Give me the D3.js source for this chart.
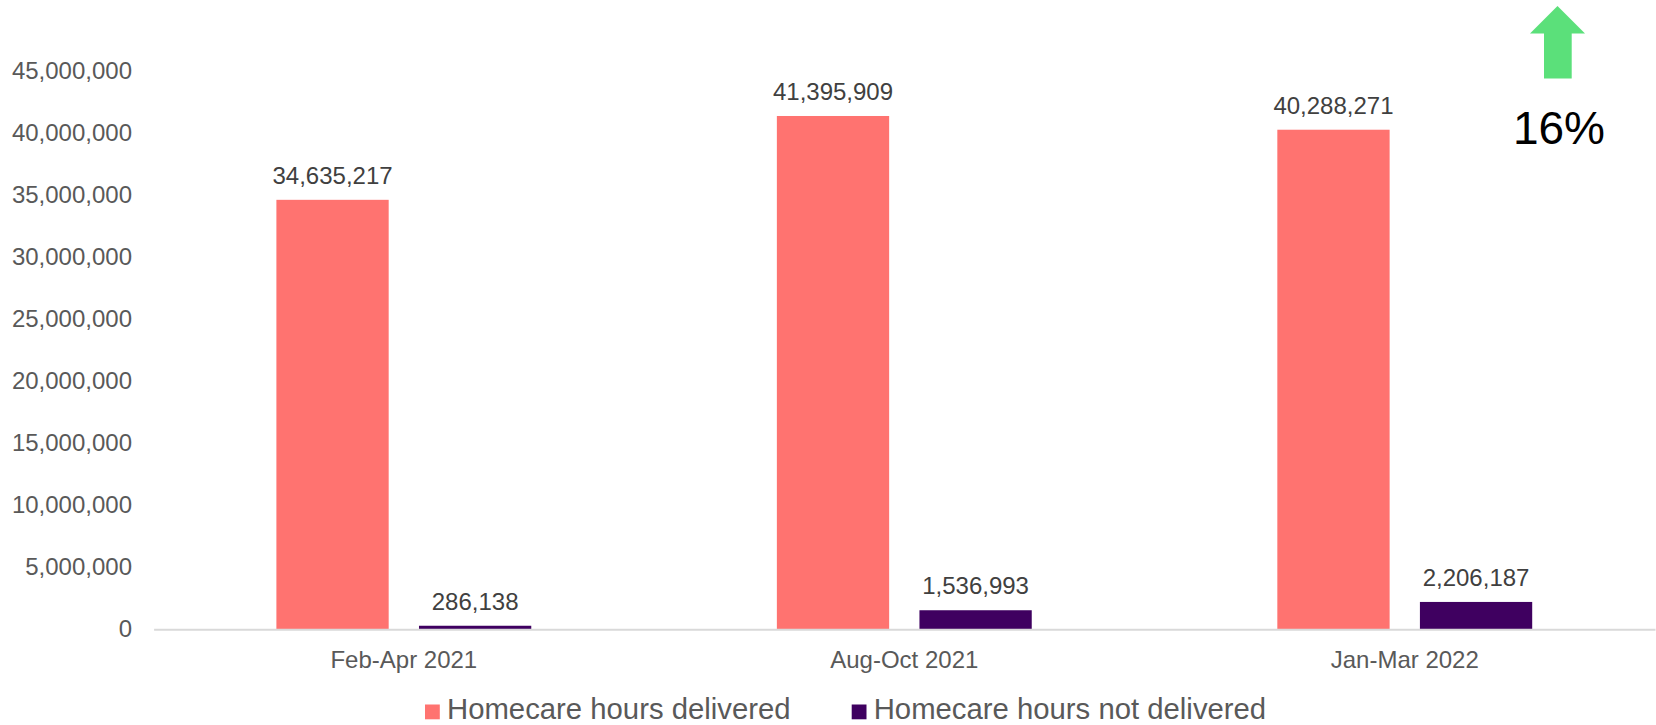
<!DOCTYPE html>
<html>
<head>
<meta charset="utf-8">
<script src="https://cdn.jsdelivr.net/npm/d3@7"></script>
<style>
  html, body { margin: 0; padding: 0; background: #fff; }
  svg { display: block; font-family: "Liberation Sans", Arial, sans-serif; }
</style>
</head>
<body>
<svg id="chart" width="1656" height="725"></svg>
<script>
const categories = ["Feb-Apr 2021", "Aug-Oct 2021", "Jan-Mar 2022"];
const seriesNames = ["Homecare hours delivered", "Homecare hours not delivered"];
const delivered = [34635217, 41395909, 40288271];
const notDelivered = [286138, 1536993, 2206187];
const yTicks = [0, 5000000, 10000000, 15000000, 20000000, 25000000, 30000000, 35000000, 40000000, 45000000];
const changeLabel = "16%";

const colors = ["#FF7370", "#3F0060"];
const svg = d3.select("#chart");

const plot = { left: 153.6, right: 1655, top: 71.3, bottom: 629.3 };

const x0 = d3.scaleBand().domain(categories).range([plot.left, plot.right]).paddingInner(0).paddingOuter(0);
const x1 = d3.scaleBand().domain(seriesNames).range([0, x0.bandwidth()]).paddingInner(0.2125).paddingOuter(0.8612);
const y = d3.scaleLinear().domain([0, 45000000]).range([plot.bottom, plot.top]);
const color = d3.scaleOrdinal().domain(seriesNames).range(colors);
const fmt = d3.format(",");

const rows = categories.map((c, i) => ({ cat: c, values: [
  { name: seriesNames[0], v: delivered[i] },
  { name: seriesNames[1], v: notDelivered[i] }
]}));

// Y axis labels (no line)
const yAxis = d3.axisLeft(y).tickValues(yTicks).tickFormat(fmt).tickSize(0).tickPadding(0);
const yg = svg.append("g").attr("transform", "translate(132,0)").call(yAxis);
yg.select(".domain").remove();
yg.selectAll("text").attr("fill", "#595959").attr("font-size", "24px").attr("font-family", "Liberation Sans, Arial, sans-serif");

// Bars
const groups = svg.append("g").selectAll("g").data(rows).join("g")
  .attr("transform", d => `translate(${x0(d.cat)},0)`);

groups.selectAll("rect").data(d => d.values).join("rect")
  .attr("x", d => x1(d.name))
  .attr("y", d => y(d.v))
  .attr("width", x1.bandwidth())
  .attr("height", d => y(0) - y(d.v))
  .attr("fill", d => color(d.name));

groups.selectAll("text.val").data(d => d.values).join("text")
  .attr("class", "val")
  .attr("x", d => x1(d.name) + x1.bandwidth() / 2)
  .attr("y", d => y(d.v) - 16)
  .attr("text-anchor", "middle")
  .attr("font-size", "24px")
  .attr("fill", "#404040")
  .text(d => fmt(d.v));

// X axis
const xAxis = d3.axisBottom(x0).tickSize(0).tickPadding(0);
const xg = svg.append("g").attr("transform", `translate(0,${plot.bottom})`).call(xAxis);
xg.select(".domain").attr("stroke", "#D9D9D9").attr("stroke-width", 2);
xg.selectAll("text").attr("fill", "#595959").attr("font-size", "24px")
  .attr("font-family", "Liberation Sans, Arial, sans-serif").attr("dy", null).attr("y", 39);

// Legend
const legendX = [425, 851.7];
const lg = svg.append("g").selectAll("g").data(seriesNames).join("g")
  .attr("transform", (d, i) => `translate(${legendX[i]},0)`);
lg.append("rect").attr("x", 0).attr("y", 704.5).attr("width", 14.8).attr("height", 14.8).attr("fill", d => color(d));
lg.append("text").attr("x", 22).attr("y", 718.5).attr("font-size", "29.3px").attr("fill", "#595959").text(d => d);

// Arrow + change label
const arrowPts = [[1557.5, 6], [1585, 33.5], [1571.7, 33.5], [1571.7, 78.5], [1544, 78.5], [1544, 33.5], [1530, 33.5]];
svg.append("path").attr("d", d3.line()(arrowPts) + "Z").attr("fill", "#5BE07A");
svg.append("text").attr("x", 1559).attr("y", 144).attr("text-anchor", "middle")
  .attr("font-size", "46px").attr("fill", "#000").text(changeLabel);
</script>
</body>
</html>
